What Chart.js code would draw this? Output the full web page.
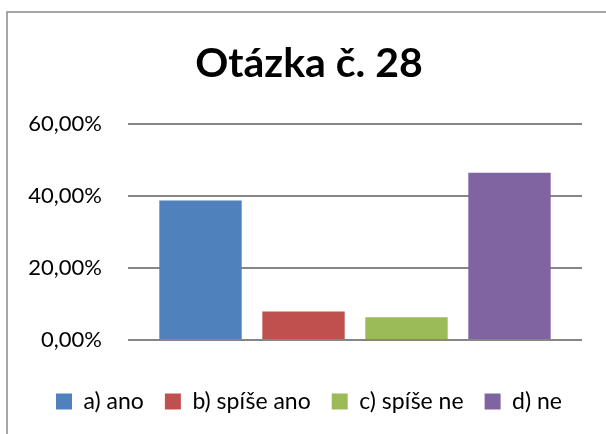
<!doctype html>
<html>

<head>
	<title>Otázka č. 28</title>
	<script src="https://cdn.jsdelivr.net/npm/chart.js@4/dist/chart.umd.min.js"></script>
	<style>
		html, body {
			margin: 0;
			padding: 0;
			background: #fff;
		}
		#wrap {
			width: 606px;
			height: 434px;
		}
	</style>
</head>

<body>
	<div id="wrap">
		<canvas id="canvas"></canvas>
	</div>
	<script>
		const categories = ['a) ano', 'b) spíše ano', 'c) spíše ne', 'd) ne'];
		const values = [38.8, 7.9, 6.3, 46.5];
		const colors = ['#4F81BD', '#C0504D', '#9BBB59', '#8064A2'];
		const yMax = 60;
		const yStep = 20;

		const fontFamily = 'Lato, "Open Sans", sans-serif';

		// thin grey frame like the Excel chart border
		const framePlugin = {
			id: 'frame',
			beforeDraw(chart) {
				const ctx = chart.ctx;
				ctx.save();
				ctx.fillStyle = '#fff';
				ctx.fillRect(0, 0, chart.width, chart.height);
				ctx.strokeStyle = '#8a8a8a';
				ctx.lineWidth = 1.5;
				ctx.strokeRect(7, 12, chart.width + 20, chart.height + 20);
				ctx.restore();
			}
		};

		// title and legend sit a bit right of the canvas centre in the original
		const nudgePlugin = {
			id: 'nudge',
			afterLayout(chart) {
				[chart.titleBlock, chart.legend].forEach(box => {
					if (box) {
						box.left += 11;
						box.right += 11;
					}
				});
			}
		};

		const datasets = categories.map((name, i) => ({
			label: name,
			data: [{x: i, y: values[i]}],
			backgroundColor: colors[i],
			borderWidth: 0,
			grouped: false,
			categoryPercentage: 1,
			barPercentage: 0.8
		}));

		const config = {
			type: 'bar',
			data: {
				datasets: datasets
			},
			options: {
				responsive: true,
				maintainAspectRatio: false,
				animation: false,
				layout: {
					padding: {left: 14, right: 24, top: 0, bottom: 11}
				},
				scales: {
					x: {
						type: 'linear',
						offset: false,
						min: -0.704,
						max: 3.704,
						grid: {display: false},
						border: {display: false},
						ticks: {display: false, stepSize: 1, includeBounds: false},
						afterFit(scale) {
							scale.height = 29;
						}
					},
					y: {
						min: 0,
						max: yMax,
						grid: {
							color: '#868686',
							lineWidth: 2,
							drawTicks: false
						},
						border: {display: false},
						ticks: {
							stepSize: yStep,
							padding: 26,
							color: '#000',
							font: {family: fontFamily, size: 22},
							callback: v => Number(v).toFixed(2).replace('.', ',') + '%'
						},
						afterFit(scale) {
							scale.width = 114;
						}
					}
				},
				plugins: {
					title: {
						display: true,
						text: 'Otázka č. 28',
						color: '#000',
						font: {family: fontFamily, size: 41, weight: 'bold'},
						padding: {top: 39, bottom: 36}
					},
					legend: {
						position: 'bottom',
						labels: {
							color: '#000',
							boxWidth: 16,
							boxHeight: 16,
							padding: 21,
							font: {family: fontFamily, size: 23}
						}
					},
					tooltip: {enabled: false}
				}
			},
			plugins: [framePlugin, nudgePlugin]
		};

		window.onload = function() {
			const ctx = document.getElementById('canvas').getContext('2d');
			window.myBar = new Chart(ctx, config);
		};
	</script>
</body>

</html>
